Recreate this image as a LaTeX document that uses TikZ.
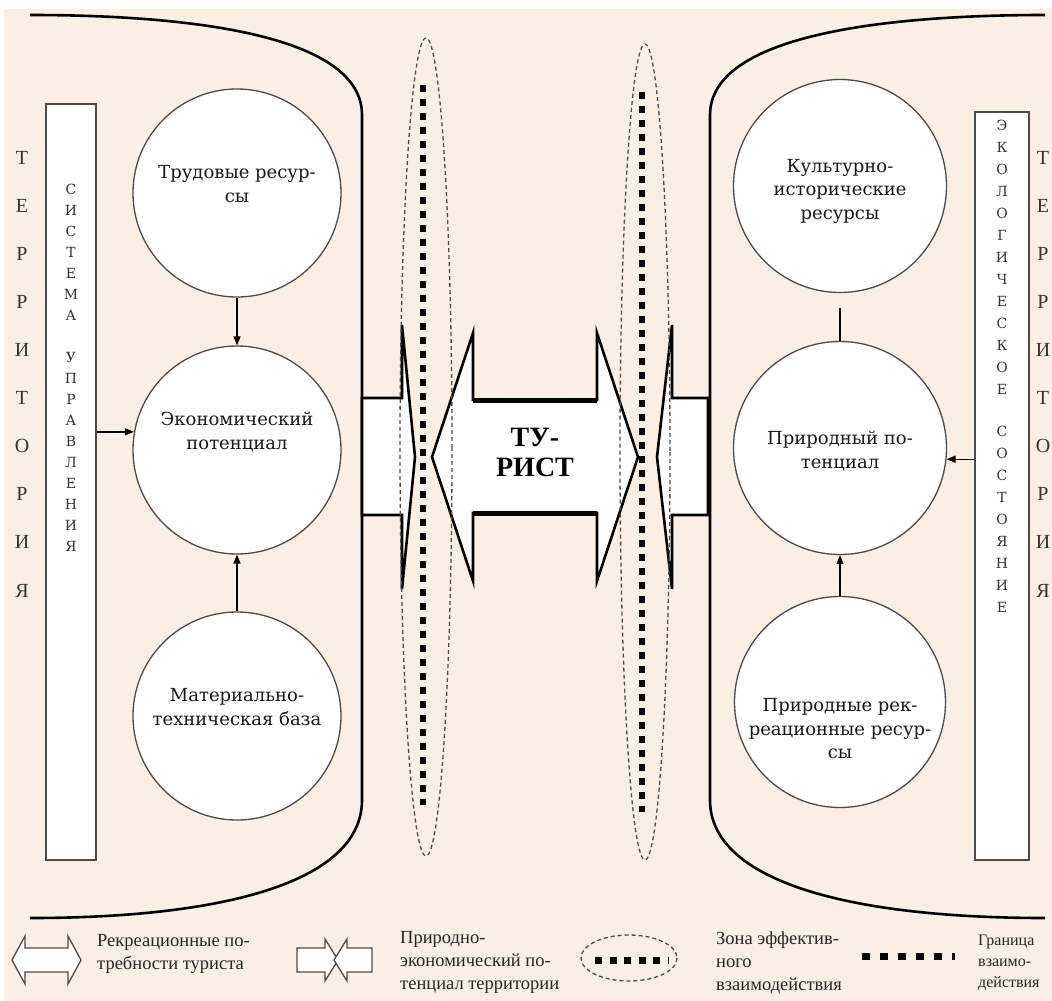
\documentclass[tikz,border=0pt]{standalone}
\usepackage{fontspec}
\setmainfont{Liberation Serif}
\setmonofont{Liberation Mono}
\newfontfamily\circfont{DejaVu Serif}
\usetikzlibrary{arrows.meta}
\definecolor{peach}{RGB}{251,238,227}
\definecolor{rim}{RGB}{75,75,75}

\begin{document}
\begin{tikzpicture}[x=1pt,y=-1pt,
  res/.style={circle,draw=rim,line width=1.3pt,fill=white,inner sep=0pt},
  restext/.style={font=\circfont\fontsize{18}{23.5}\selectfont,align=center,text=black!90},
  column/.style={draw=rim,line width=1.8pt,fill=white},
  vert/.style={font=\circfont\fontsize{14}{21}\selectfont,align=center,text=black!80},
  terr/.style={font=\fontsize{20}{48.1}\selectfont,align=center,text=black!80},
  wall/.style={line width=2.6pt},
  flow/.style={draw,line width=2.6pt,fill=white,line join=miter},
  zone/.style={draw=black!70,line width=1.3pt,dash pattern=on 4pt off 3pt},
  border/.style={line width=6.5pt,dash pattern=on 6.5pt off 7.5pt},
  link/.style={line width=1.4pt,-{Triangle[length=9pt,width=7pt]}},
  sign/.style={draw=rim,line width=1.3pt,fill=white,line join=miter},
  legend/.style={font=\fontsize{18.5}{23}\selectfont,align=left,anchor=north west,inner sep=0pt,text=black!85}
]
\useasboundingbox (0,0) rectangle (1052,1001);
\fill[white] (0,0) rectangle (1052,1001);
\fill[peach] (4,9) rectangle (1052,1001);

% territory walls
\draw[wall] (30,15) .. controls (190,15) and (362,35) .. (362,115) -- (362,800)
  .. controls (362,880) and (230,918) .. (30,918);
\draw[wall] (1045,15) .. controls (885,15) and (710,35) .. (710,115) -- (710,800)
  .. controls (710,880) and (845,918) .. (1045,918);

% side columns
\node[terr] (terr-l) at (22,374) {Т\\Е\\Р\\Р\\И\\Т\\О\\Р\\И\\Я};
\node[terr] (terr-r) at (1043,374) {Т\\Е\\Р\\Р\\И\\Т\\О\\Р\\И\\Я};
\node[column,minimum width=50pt,minimum height=756pt] (mgmt) at (71,482) {};
\node[vert] (mgmt-t) at (71,368) {С\\И\\С\\Т\\Е\\М\\А\\[21pt]У\\П\\Р\\А\\В\\Л\\Е\\Н\\И\\Я};
\node[column,minimum width=54pt,minimum height=748pt] (eco) at (1002,486) {};
\node[vert,font=\circfont\fontsize{14}{22}\selectfont] (eco-t) at (1002,366)
  {Э\\К\\О\\Л\\О\\Г\\И\\Ч\\Е\\С\\К\\О\\Е\\[20pt]С\\О\\С\\Т\\О\\Я\\Н\\И\\Е};

% resources
\node[res,minimum size=208pt] (labour) at (237,193) {};
\node[res,minimum size=208pt] (econ) at (237,450) {};
\node[res,minimum size=208pt] (base) at (237,716) {};
\node[res,minimum size=213pt] (culture) at (840,186) {};
\node[res,minimum size=213pt] (nature) at (840,448) {};
\node[res,minimum size=211pt] (recr) at (840,702) {};
\node[restext] (labour-t) at (237,184) {Трудовые ресур-\\сы};
\node[restext] (econ-t) at (237,432) {Экономический\\потенциал};
\node[restext] (base-t) at (237,707) {Материально-\\техническая база};
\node[restext] (culture-t) at (840,191) {Культурно-\\исторические\\ресурсы};
\node[restext] (nature-t) at (840,451) {Природный по-\\тенциал};
\node[restext] (recr-t) at (840,729) {Природные рек-\\реационные ресур-\\сы};

\draw[link] (labour.south) -- (econ.north);
\draw[link] (base.north) -- (econ.south);
\draw[link] (mgmt.east |- econ.170) -- (econ.170);
\draw[line width=1.3pt] ([yshift=-15pt]culture.south) -- (nature.north);
\draw[link] (recr.north) -- (nature.south);
\draw[link] (eco.west |- nature.-6) -- (nature.-6);

% arrows in the middle
\draw[flow] (362,398) -- (402,398) -- (402,325) -- (415,457) -- (402,589)
  -- (402,515) -- (362,515) -- cycle;
\draw[flow] (708,398) -- (672,398) -- (672,325) -- (657,457) -- (672,589)
  -- (672,515) -- (708,515) -- cycle;
\draw[flow] (473,400) -- (597,400) -- (597,333) -- (638,457) -- (597,581)
  -- (597,513) -- (473,513) -- (473,581) -- (432,457) -- (473,333) -- cycle;
\draw[line width=5pt] (473,400) -- (597,400) (473,513) -- (597,513);
\node[font=\bfseries\fontsize{28}{30}\selectfont,align=center] (tourist) at (535,452) {ТУ-\\РИСТ};

% zones and borders
\draw[zone] (426,447) ellipse [x radius=26, y radius=409];
\draw[zone] (645,452) ellipse [x radius=25, y radius=408];
\draw[border] (423,85) -- (423,805);
\draw[border] (642,92) -- (642,812);

% legend
\draw[sign] (12,960) -- (25,936) -- (25,948) -- (68,948) -- (68,936) -- (81,960)
  -- (68,984) -- (68,972) -- (25,972) -- (25,984) -- cycle;
\node[legend] (leg-need) at (97,934) {Рекреационные по-\\требности туриста};
\draw[sign] (297,948) -- (325,948) -- (325,939) -- (338,960) -- (325,981)
  -- (325,972) -- (297,972) -- cycle;
\draw[sign] (372,948) -- (347,948) -- (347,939) -- (334,960) -- (347,981)
  -- (347,972) -- (372,972) -- cycle;
\node[legend] (leg-pot) at (400,931) {Природно-\\экономический по-\\тенциал территории};
\draw[zone] (629,958) ellipse [x radius=48, y radius=23];
\draw[line width=7pt,dash pattern=on 7pt off 7.5pt] (595,960) -- (668,960);
\node[legend] (leg-zone) at (716,931) {Зона эффектив-\\ного\\взаимодействия};
\draw[line width=7pt,dash pattern=on 8pt off 10pt] (862,956) -- (955,956);
\node[legend,font=\fontsize{16}{21}\selectfont] (leg-bord) at (978,935) {Граница\\взаимо-\\действия};
\end{tikzpicture}
\end{document}
